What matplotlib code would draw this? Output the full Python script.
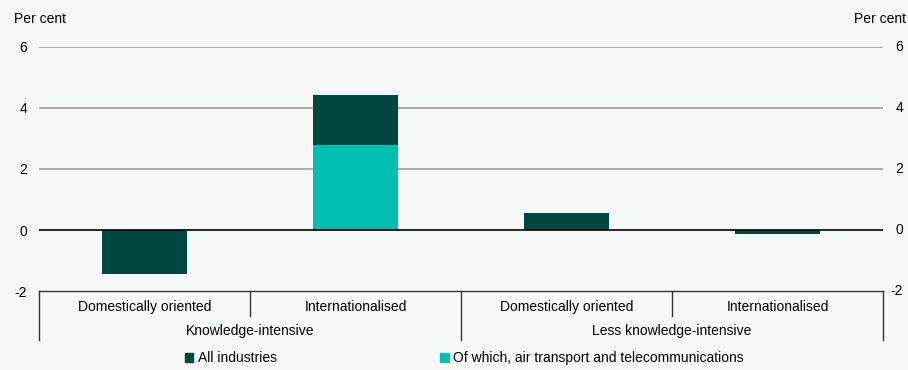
import matplotlib.pyplot as plt
import matplotlib.transforms as mtransforms
from matplotlib.patches import Patch

# data
categories = ["Domestically oriented", "Internationalised",
              "Domestically oriented", "Internationalised"]
groups = ["Knowledge-intensive", "Less knowledge-intensive"]
all_industries = [-1.44, 4.43, 0.55, -0.12]
air_telecom = [0.0, 2.79, 0.0, 0.0]
series_names = ["All industries", "Of which, air transport and telecommunications"]
yticks = [-2, 0, 2, 4, 6]

dark = "#00473F"
teal = "#00BFB0"
bg = "#F7F9F8"

plt.rcParams['font.family'] = ['Liberation Sans', 'DejaVu Sans']

fig = plt.figure(figsize=(9.08, 3.70), dpi=100, facecolor=bg)
ax = fig.add_axes([0.043, 0.2135, 0.9295, 0.6595], facecolor=bg)

x = list(range(len(categories)))
ax.bar(x, all_industries, width=0.4, color=dark, zorder=3)
ax.bar(x, air_telecom, width=0.4, color=teal, zorder=4)

ax.set_xlim(-0.5, 3.5)
ax.set_ylim(-2, 6)
ax.set_yticks(yticks)
ax.set_yticklabels([str(v) for v in yticks])
for v in [2, 4, 6]:
    ax.axhline(v, color="#A0A0A0", lw=1.2, zorder=1)
ax.axhline(0, color="black", lw=1.2, zorder=5)

for s in ["top", "left", "right"]:
    ax.spines[s].set_visible(False)
ax.spines["bottom"].set_color("#333333")
ax.spines["bottom"].set_linewidth(1.0)
ax.set_xticks([])
ax.tick_params(axis="y", left=False, right=False, labelleft=True, labelright=False,
               labelsize=10, pad=5, colors="black")

# right-hand tick labels (right aligned so "-2" stays inside the figure)
rtrans = mtransforms.blended_transform_factory(ax.transAxes, ax.transData)
for v in yticks:
    ax.text(1.0237, v, str(v), transform=rtrans, ha="right", va="center",
            fontsize=10, clip_on=False)

# category box under the axis
trans = mtransforms.blended_transform_factory(ax.transData, ax.transAxes)
lc = "#333333"
for xb, ybot in [(-0.5, -0.2), (0.5, -0.102), (1.5, -0.2), (2.5, -0.102), (3.5, -0.2)]:
    ax.plot([xb, xb], [0, ybot], color=lc, lw=1.0, transform=trans, clip_on=False)
for i, c in enumerate(categories):
    ax.text(i, -0.066, c, transform=trans, ha="center", va="center", fontsize=10)
for g, gx in zip(groups, [0.5, 2.5]):
    ax.text(gx, -0.164, g, transform=trans, ha="center", va="center", fontsize=10)

fig.text(14 / 908, 1 - 19 / 370, "Per cent", ha="left", va="center", fontsize=10)
fig.text(906 / 908, 1 - 19 / 370, "Per cent", ha="right", va="center", fontsize=10)

handles = [Patch(color=dark), Patch(color=teal)]
fig.legend(handles, series_names, loc="center left", bbox_to_anchor=(0.19, 1 - 358 / 370),
           ncol=2, frameon=False, fontsize=10, handlelength=0.6, handleheight=0.6,
           handletextpad=0.3, columnspacing=11.8)

fig.savefig("out.png", dpi=100, facecolor=bg)
